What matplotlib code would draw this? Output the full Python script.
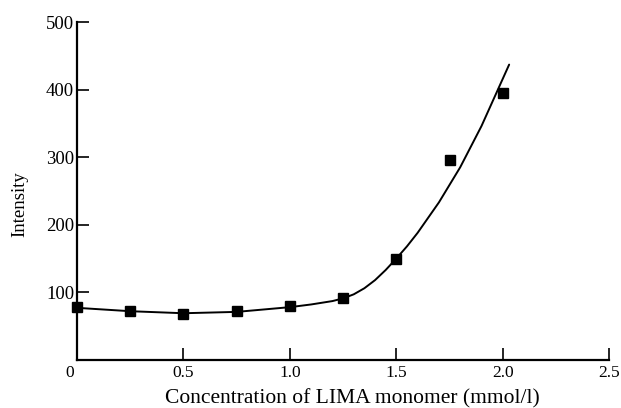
import matplotlib
matplotlib.use("Agg")
import matplotlib.pyplot as plt
import matplotlib.transforms as mtransforms

# measured points
conc = [0.0, 0.25, 0.5, 0.75, 1.0, 1.25, 1.5, 1.75, 2.0]
intensity = [78, 72, 68, 73, 79, 92, 150, 296, 395]

# fitted curve
curve_x = [0.0, 0.25, 0.5, 0.75, 1.0, 1.1, 1.2, 1.25, 1.3, 1.35, 1.4, 1.45, 1.5,
           1.55, 1.6, 1.7, 1.8, 1.9, 2.0, 2.03]
curve_y = [77, 72, 69, 71, 78, 82, 87, 91, 97, 106, 118, 133, 150,
           168, 188, 233, 285, 346, 416, 437]

xticks = [0, 0.5, 1.0, 1.5, 2.0, 2.5]
xticklabels = ["0", "0.5", "1.0", "1.5", "2.0", "2.5"]
yticks = [100, 200, 300, 400, 500]

plt.rcParams['font.family'] = ['Liberation Serif', 'DejaVu Serif']

fig = plt.figure(figsize=(6.21, 4.08), dpi=100)
ax = fig.add_axes([0.124, 0.118, 0.857, 0.828])

ax.plot(curve_x, curve_y, color='black', lw=1.4, solid_capstyle='round')
ax.plot(conc, intensity, 's', color='black', ms=6.5, clip_on=False)

ax.set_xlim(0, 2.5)
ax.set_ylim(0, 500)
ax.set_xticks(xticks)
ax.set_xticklabels(xticklabels)
ax.set_yticks(yticks)

for side in ['top', 'right']:
    ax.spines[side].set_visible(False)
for side in ['left', 'bottom']:
    ax.spines[side].set_linewidth(1.6)

ax.tick_params(axis='y', direction='in', length=8.5, width=1.2, labelsize=13.5, pad=2)
ax.tick_params(axis='x', direction='in', length=9, width=1.2, labelsize=12.5, pad=4)

# the "0" sits a bit left of the corner in the original
zero_lbl = ax.get_xticklabels()[0]
zero_lbl.set_transform(zero_lbl.get_transform() +
                       mtransforms.ScaledTranslation(-0.07, 0, fig.dpi_scale_trans))

ax.set_xlabel('Concentration of LIMA monomer (mmol/l)', fontsize=15.5)
ax.xaxis.set_label_coords(0.518, -0.085)
ax.set_ylabel('Intensity', fontsize=13.5)
ax.yaxis.set_label_coords(-0.092, 0.462)

fig.savefig('out.png', dpi=100)
